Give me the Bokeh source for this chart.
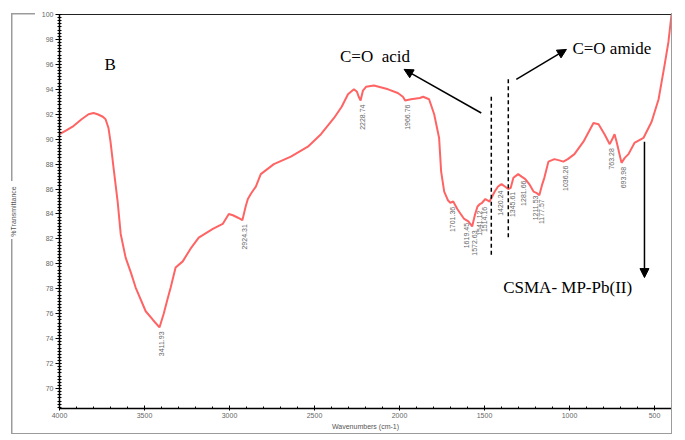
import numpy as np
from bokeh.plotting import figure
from bokeh.models import Range1d, FixedTicker, Label, Arrow, NormalHead, ColumnDataSource, InlineStyleSheet
from bokeh.core.properties import value
from bokeh.embed import file_html
from bokeh.resources import INLINE

# FTIR spectrum (wavenumber in cm-1, descending) and % transmittance
wavenumber = [4000, 3960, 3923, 3870, 3829, 3800, 3776, 3745, 3729, 3712, 3700, 3682,
              3658, 3640, 3611, 3580, 3552, 3493, 3450, 3411.93, 3387, 3366, 3346, 3317,
              3275, 3230, 3181, 3098, 3040, 3004, 2980, 2950, 2924.31, 2905, 2892, 2875,
              2845, 2816, 2739, 2639, 2539, 2462, 2385, 2340, 2303, 2268, 2250, 2240,
              2228.74, 2215, 2197, 2150, 2067, 2010, 1980, 1966.76, 1932, 1880, 1861, 1826,
              1796, 1767, 1755, 1737, 1715, 1701.36, 1684, 1660, 1640, 1619.45, 1595,
              1572.63, 1555, 1541.12, 1527, 1514.16, 1495, 1470, 1455, 1440, 1420.24,
              1400, 1380, 1360, 1345.61, 1330, 1302, 1281.66, 1260, 1237, 1211.53, 1195,
              1177.57, 1160, 1148, 1124, 1089, 1060, 1036.26, 1010, 971, 918, 859, 829,
              794, 763.28, 745, 735, 723, 693.98, 675, 653, 618, 565, 517, 476, 440, 418, 400]
transmittance = [90.4, 90.7, 91.0, 91.6, 92.0, 92.1, 92.0, 91.8, 91.6, 90.9, 89.8, 87.7,
                 85.0, 82.4, 80.5, 79.3, 78.1, 76.2, 75.5, 74.9, 76.0, 77.1, 78.1, 79.7,
                 80.2, 81.2, 82.1, 82.8, 83.2, 84.0, 83.9, 83.7, 83.5, 84.6, 85.2, 85.6,
                 86.2, 87.2, 88.0, 88.6, 89.4, 90.4, 91.7, 92.6, 93.6, 94.0, 93.8, 93.4,
                 93.1, 93.9, 94.2, 94.3, 94.0, 93.7, 93.4, 93.1, 93.2, 93.3, 93.4, 93.2,
                 92.0, 90.1, 87.4, 85.8, 85.1, 84.9, 85.0, 84.4, 84.0, 83.6, 83.4,
                 83.0, 84.0, 84.6, 84.8, 84.9, 85.2, 85.0, 85.4, 85.8, 86.2,
                 86.4, 86.2, 86.0, 86.1, 86.9, 87.2, 87.0, 86.8, 86.4, 85.8, 85.7,
                 85.5, 86.4, 86.9, 88.2, 88.4, 88.3, 88.2, 88.4, 88.8, 89.8, 91.3, 91.2,
                 90.4, 89.6, 90.1, 90.4, 89.8, 88.1, 88.5, 88.8, 89.7, 90.1, 91.4, 93.2, 96.0, 97.8, 100.0]

# Labelled absorption bands
peak_positions = [3411.93, 2924.31, 2228.74, 1966.76, 1701.36, 1619.45, 1572.63, 1541.12,
                  1514.16, 1420.24, 1345.61, 1281.66, 1211.53, 1177.57, 1036.26, 763.28, 693.98]

x_tick_values = [4000, 3500, 3000, 2500, 2000, 1500, 1000, 500]
y_tick_values = list(range(70, 101, 2))

# Grey outer frame drawn over the canvas, with a break for the y-axis title
frame_css = """
:host::after {
  content: "";
  position: absolute;
  left: 11px; top: 13px; width: 661px; height: 421px;
  pointer-events: none;
  background:
    linear-gradient(#9c9c9c, #9c9c9c) left top / 1.5px 168px no-repeat,
    linear-gradient(#9c9c9c, #9c9c9c) left bottom / 1.5px 195px no-repeat,
    linear-gradient(#9c9c9c, #9c9c9c) left bottom / 100% 1.5px no-repeat,
    linear-gradient(#9c9c9c, #9c9c9c) right top / 1.5px 100% no-repeat,
    linear-gradient(#9c9c9c, #9c9c9c) left top / 24px 1.5px no-repeat;
}
"""

p = figure(width=685, height=440, output_backend="svg", toolbar_location=None,
           x_range=Range1d(4000, 400), y_range=Range1d(68.4, 100.0),
           min_border_left=59, min_border_right=14, min_border_top=14, min_border_bottom=32,
           background_fill_color="white", border_fill_color="white")
p.stylesheets = [InlineStyleSheet(css=frame_css)]
p.outline_line_color = "#222222"
p.outline_line_width = 1
p.grid.visible = False

tick_font = value("Liberation Sans")
p.xaxis.ticker = FixedTicker(ticks=x_tick_values, minor_ticks=list(range(400, 4001, 100)))
p.yaxis.ticker = FixedTicker(ticks=y_tick_values, minor_ticks=list(np.arange(68.5, 100.01, 0.25)))
for ax in (p.xaxis[0], p.yaxis[0]):
    ax.axis_line_color = "black"
    ax.axis_line_width = 1.5
    ax.major_tick_line_color = "black"
    ax.minor_tick_line_color = "black"
    ax.major_label_text_font = "Liberation Sans"
    ax.major_label_text_font_size = "7px"
    ax.major_label_text_color = "#666666"
    ax.major_label_standoff = 2
    ax.axis_label_text_font = "Liberation Sans"
    ax.axis_label_text_font_size = "7px"
    ax.axis_label_text_font_style = "normal"
    ax.axis_label_text_color = "#555555"
p.xaxis.major_tick_in = 3
p.xaxis.major_tick_out = 2
p.xaxis.minor_tick_in = 2
p.xaxis.minor_tick_out = 0
p.yaxis.major_tick_in = 2
p.yaxis.major_tick_out = 4
p.yaxis.minor_tick_in = 2
p.yaxis.minor_tick_out = 2

p.xaxis.axis_label = "Wavenumbers (cm-1)"
p.xaxis.axis_label_standoff = 2
p.yaxis.axis_label = "%Transmittance"
p.yaxis.axis_label_standoff = 22

# Spectrum
p.line(wavenumber, transmittance, line_color="#ff6464", line_width=2)

# Peak labels below each band
wn_inc = np.array(wavenumber[::-1], dtype=float)
tr_inc = np.array(transmittance[::-1], dtype=float)
peak_src = ColumnDataSource(dict(
    x=peak_positions,
    y=np.interp(peak_positions, wn_inc, tr_inc),
    text=[f"{v:.2f}" for v in peak_positions],
))
p.text(x="x", y="y", text="text", source=peak_src, angle=np.pi / 2,
       text_align="right", text_baseline="middle", text_font_size="7px",
       text_color="#666666", text_font=tick_font, x_offset=2, y_offset=4)

# Annotations
serif = "Liberation Serif"
p.add_layout(Label(x=3735, y=96.0, text="B", text_font=serif, text_font_size="17px",
                   text_baseline="middle", text_color="black"))
p.add_layout(Label(x=2350, y=96.6, text="C=O\u00a0 acid", text_font=serif, text_font_size="17px",
                   text_baseline="middle", text_color="black"))
p.add_layout(Label(x=983, y=97.3, text="C=O amide", text_font=serif, text_font_size="17px",
                   text_baseline="middle", text_color="black"))
p.add_layout(Label(x=1390, y=78.1, text="CSMA- MP-Pb(II)", text_font=serif, text_font_size="17px",
                   text_baseline="middle", text_color="black"))

p.segment(x0=[1460, 1360], y0=[93.4, 94.8], x1=[1460, 1360], y1=[80.6, 82.0],
          line_color="black", line_width=1.5, line_dash="4 3")

for xs, ys, xe, ye in [(1519, 92.1, 1973, 95.6), (1313, 94.8, 1018, 97.2), (559, 89.8, 559, 78.9)]:
    p.add_layout(Arrow(end=NormalHead(size=9, fill_color="black", line_color="black"),
                       x_start=xs, y_start=ys, x_end=xe, y_end=ye,
                       line_color="black", line_width=1.5))

open("out.html", "w").write(file_html(p, INLINE))
